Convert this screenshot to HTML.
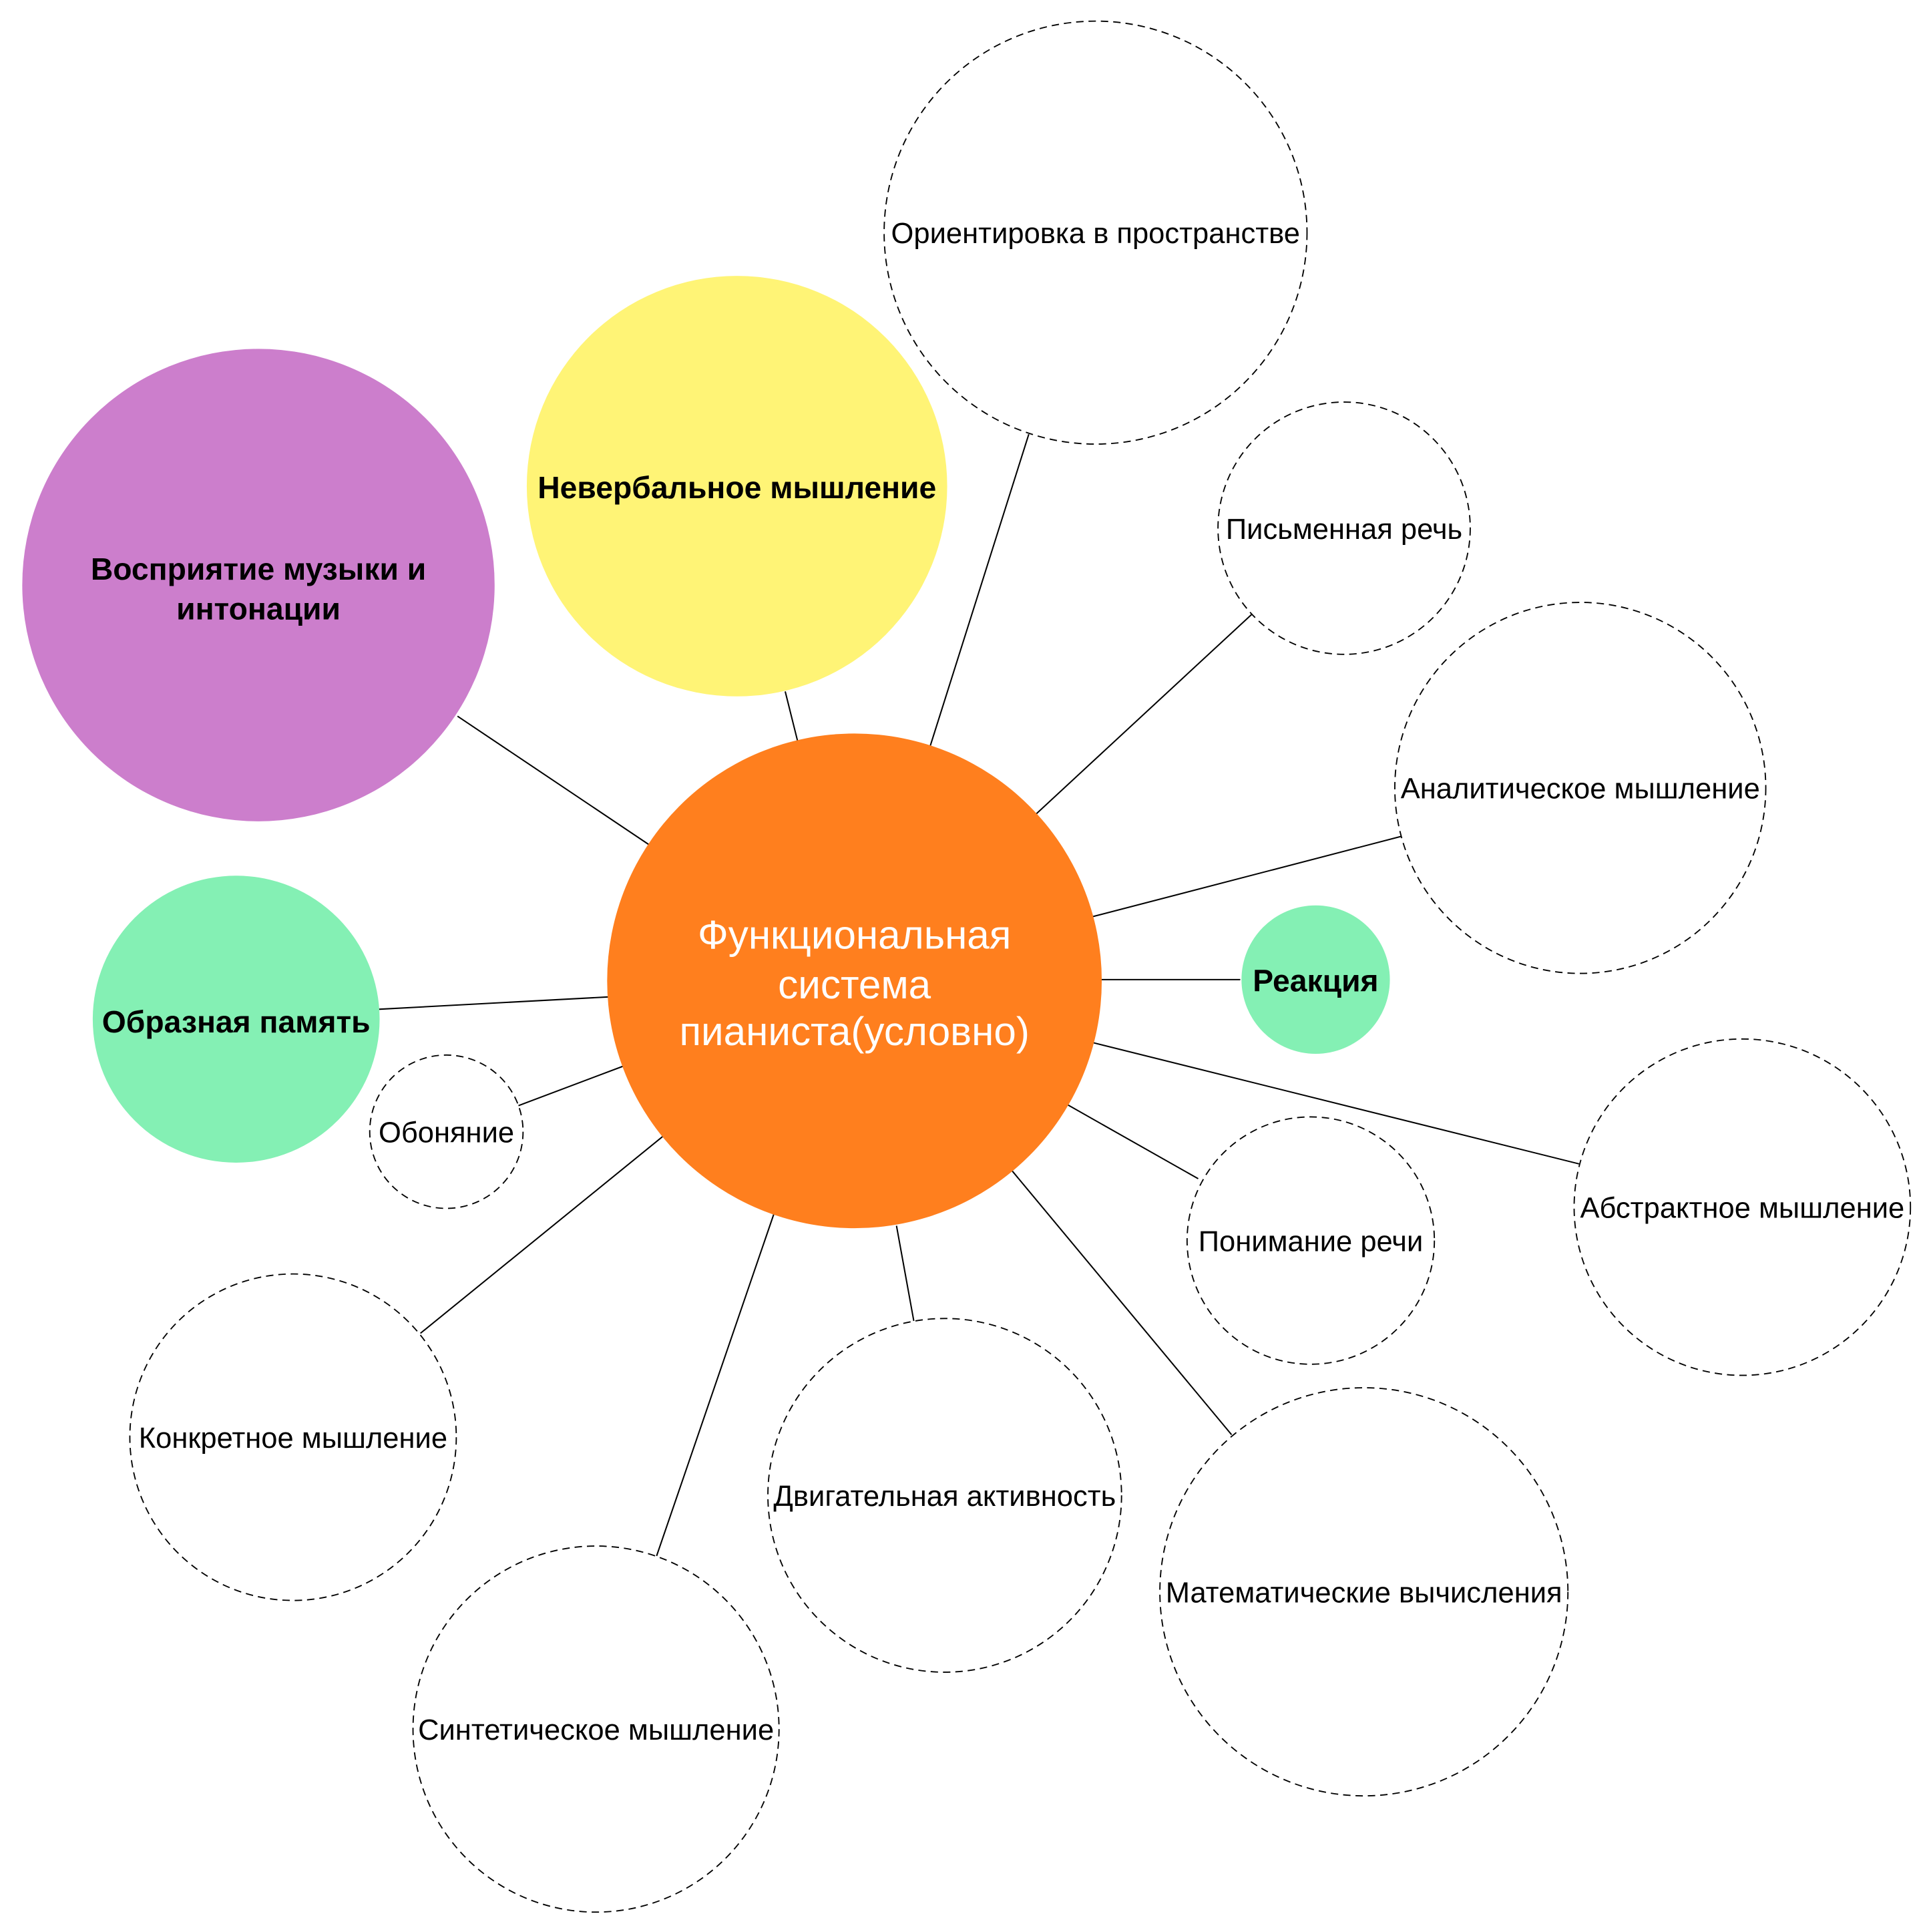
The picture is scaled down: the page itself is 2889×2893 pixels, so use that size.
<!DOCTYPE html>
<html><head><meta charset="utf-8"><style>
html,body{margin:0;padding:0;background:#fff;}
svg{display:block;}
text{font-family:"Liberation Sans","DejaVu Sans",sans-serif;text-anchor:middle;dominant-baseline:central;}
</style></head><body>
<svg width="2889" height="2893" viewBox="0 0 1560 1562" xmlns="http://www.w3.org/2000/svg">
<g transform="translate(-2,-2)">
<g stroke="#000" stroke-width="1.1">
<line x1="372" y1="581" x2="527" y2="685"/>
<line x1="637" y1="561" x2="647" y2="601"/>
<line x1="834" y1="353" x2="754" y2="606"/>
<line x1="1015" y1="498" x2="840" y2="660"/>
<line x1="1136" y1="678" x2="886" y2="743"/>
<line x1="892" y1="794" x2="1005" y2="794"/>
<line x1="886" y1="845" x2="1279" y2="943"/>
<line x1="865" y1="895" x2="971" y2="955"/>
<line x1="820" y1="948" x2="998" y2="1162"/>
<line x1="727" y1="993" x2="741" y2="1070"/>
<line x1="628" y1="983" x2="533" y2="1260"/>
<line x1="539" y1="920" x2="342" y2="1080"/>
<line x1="506" y1="864" x2="421" y2="896"/>
<line x1="494" y1="808" x2="308" y2="818"/>
</g>
<g fill="#fff" stroke="#000" stroke-width="1" stroke-dasharray="6,4">
<circle cx="888" cy="190" r="171"/>
<circle cx="1089" cy="429" r="102"/>
<circle cx="1280" cy="639" r="150"/>
<circle cx="1411" cy="978" r="136"/>
<circle cx="1062" cy="1005" r="100"/>
<circle cx="1105" cy="1289" r="165"/>
<circle cx="766" cy="1211" r="143"/>
<circle cx="484" cy="1400" r="148"/>
<circle cx="239" cy="1164" r="132"/>
<circle cx="363" cy="917" r="62"/>
</g>
<circle cx="693" cy="795" r="200" fill="#FF7F1E"/>
<circle cx="211" cy="475" r="191" fill="#CC7ECC"/>
<circle cx="598" cy="395" r="170" fill="#FFF476"/>
<circle cx="1066" cy="794" r="60" fill="#84F0B4"/>
<circle cx="193" cy="826" r="116" fill="#84F0B4"/>
<g font-size="32.5" fill="#fff">
<text x="693" y="758">Функциональная</text>
<text x="693" y="798">система</text>
<text x="693" y="836">пианиста(условно)</text>
</g>
<g font-size="25" font-weight="bold" fill="#000">
<text x="211" y="462">Восприятие музыки и</text>
<text x="211" y="494">интонации</text>
<text x="598" y="396">Невербальное мышление</text>
<text x="1066" y="795">Реакция</text>
<text x="193" y="828">Образная память</text>
</g>
<g font-size="23.5" fill="#000">
<text x="888" y="191">Ориентировка в пространстве</text>
<text x="1089" y="430">Письменная речь</text>
<text x="1280" y="640">Аналитическое мышление</text>
<text x="1411" y="979">Абстрактное мышление</text>
<text x="1062" y="1006">Понимание речи</text>
<text x="1105" y="1290">Математические вычисления</text>
<text x="766" y="1212">Двигательная активность</text>
<text x="484" y="1401">Синтетическое мышление</text>
<text x="239" y="1165">Конкретное мышление</text>
<text x="363" y="918">Обоняние</text>
</g>
</g>
</svg>
</body></html>
